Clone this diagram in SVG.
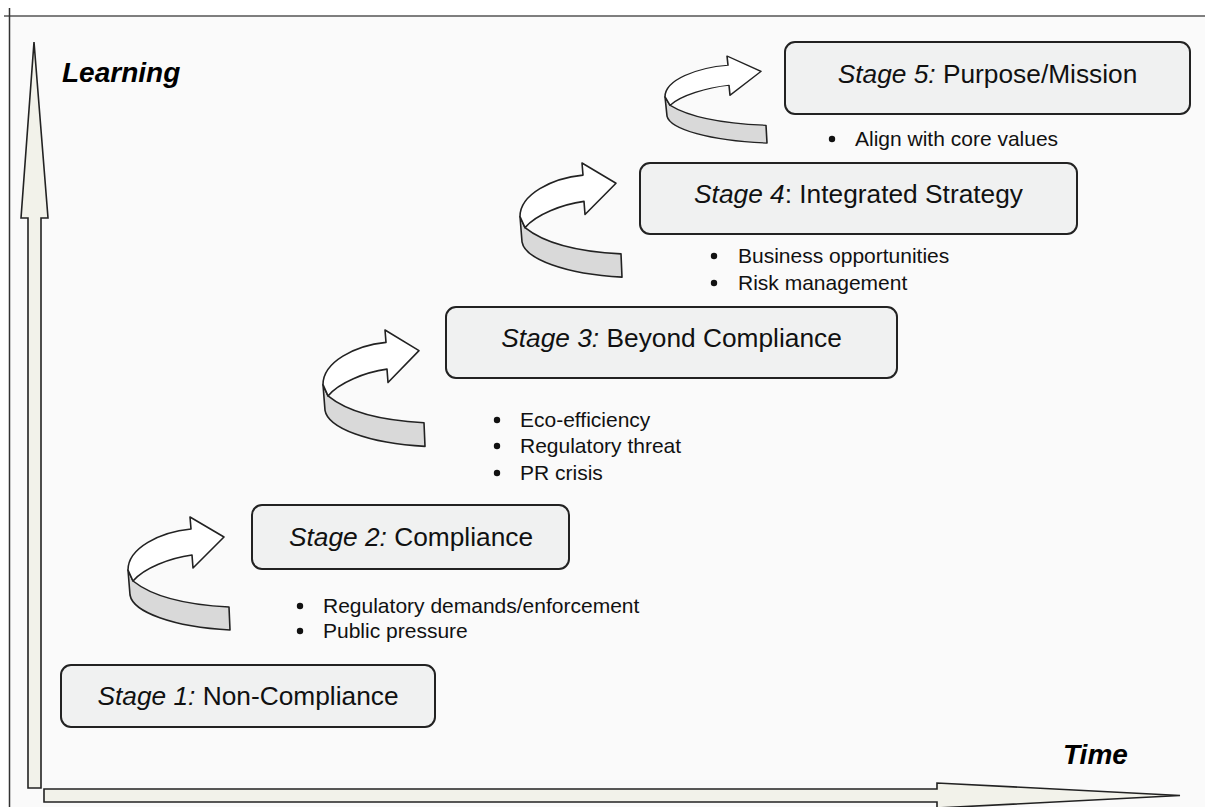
<svg xmlns="http://www.w3.org/2000/svg" width="1205" height="807" viewBox="0 0 1205 807">
  <style>
    .box { fill: #f0f1f1; stroke: #222; stroke-width: 2; }
    .stage { font-family: "Liberation Sans", Arial, sans-serif; font-size: 26.3px; fill: #111; text-anchor: middle; }
    .it { font-style: italic; }
    .bul { font-family: "Liberation Sans", Arial, sans-serif; font-size: 21px; fill: #111; }
    .dot { fill: #111; }
    .axis { fill: #f2f2ea; stroke: #222; stroke-width: 1.6; stroke-linejoin: miter; }
    .axlabel { font-family: "Liberation Sans", Arial, sans-serif; font-size: 28px; font-weight: bold; font-style: italic; fill: #000; }
    .curlW { fill: #ffffff; stroke: #222; stroke-width: 1.6; stroke-linejoin: round; }
    .curlG { fill: #d9d9d9; stroke: #222; stroke-width: 1.6; stroke-linejoin: round; }
  </style>
  <defs>
    <g id="curl">
      <path class="curlG" d="M0,53 L5,64 C25,80 60,88 101,90 L102,113 C45,110 5,95 2,78 Z"/>
      <path class="curlW" d="M0,53 C0,31 32,15 63,12 L62,0 L96,20 L65,51 L64,38 C42,41 16,51 5,64 Z"/>
    </g>
  </defs>

  <rect x="0" y="0" width="1205" height="807" fill="#ffffff"/>
  <rect x="9" y="16" width="1196" height="791" fill="#fafafa"/>
  <line x1="4" y1="16" x2="1205" y2="16" stroke="#555" stroke-width="1.5"/>
  <line x1="9.5" y1="8" x2="9.5" y2="807" stroke="#333" stroke-width="1.5"/>

  <g id="axes">
    <path class="axis" d="M34,42 L48,218 L41,218 L41,788 L28,788 L28,218 L21,218 Z"/>
    <path class="axis" d="M44,789 L937,789 L937,783 L1180,795.5 L937,808 L937,802 L44,802 Z"/>
    <text class="axlabel" x="62" y="82">Learning</text>
    <text class="axlabel" x="1063" y="764">Time</text>
  </g>

  <g id="connectors">
    <use href="#curl" transform="translate(128,517)"/>
    <use href="#curl" transform="translate(323,330) scale(1,1.03)"/>
    <use href="#curl" transform="translate(520,163) scale(1,1.01)"/>
    <use href="#curl" transform="translate(665,56) scale(1,0.77)"/>
  </g>

  <g id="stage1">
    <rect class="box" x="61" y="665" width="374" height="62" rx="10"/>
    <text class="stage" x="248" y="705"><tspan class="it">Stage 1:</tspan> Non-Compliance</text>
  </g>

  <g id="stage2">
    <rect class="box" x="252" y="505" width="317" height="64" rx="10"/>
    <text class="stage" x="411" y="546"><tspan class="it">Stage 2:</tspan> Compliance</text>
    <circle class="dot" cx="300" cy="606" r="3.2"/>
    <text class="bul" x="323" y="613">Regulatory demands/enforcement</text>
    <circle class="dot" cx="300" cy="631" r="3.2"/>
    <text class="bul" x="323" y="638">Public pressure</text>
  </g>

  <g id="stage3">
    <rect class="box" x="446" y="307" width="451" height="71" rx="10"/>
    <text class="stage" x="671.5" y="347"><tspan class="it">Stage 3:</tspan> Beyond Compliance</text>
    <circle class="dot" cx="497" cy="420" r="3.2"/>
    <text class="bul" x="520" y="427">Eco-efficiency</text>
    <circle class="dot" cx="497" cy="446" r="3.2"/>
    <text class="bul" x="520" y="453">Regulatory threat</text>
    <circle class="dot" cx="497" cy="473" r="3.2"/>
    <text class="bul" x="520" y="480">PR crisis</text>
  </g>

  <g id="stage4">
    <rect class="box" x="640" y="163" width="437" height="71" rx="10"/>
    <text class="stage" x="858.5" y="203"><tspan class="it">Stage 4</tspan>: Integrated Strategy</text>
    <circle class="dot" cx="714" cy="256" r="3.2"/>
    <text class="bul" x="738" y="263">Business opportunities</text>
    <circle class="dot" cx="714" cy="283" r="3.2"/>
    <text class="bul" x="738" y="290">Risk management</text>
  </g>

  <g id="stage5">
    <rect class="box" x="785" y="42" width="405" height="72" rx="10"/>
    <text class="stage" x="987.5" y="83"><tspan class="it">Stage 5:</tspan> Purpose/Mission</text>
    <circle class="dot" cx="832" cy="139" r="3.2"/>
    <text class="bul" x="855" y="146">Align with core values</text>
  </g>
</svg>
